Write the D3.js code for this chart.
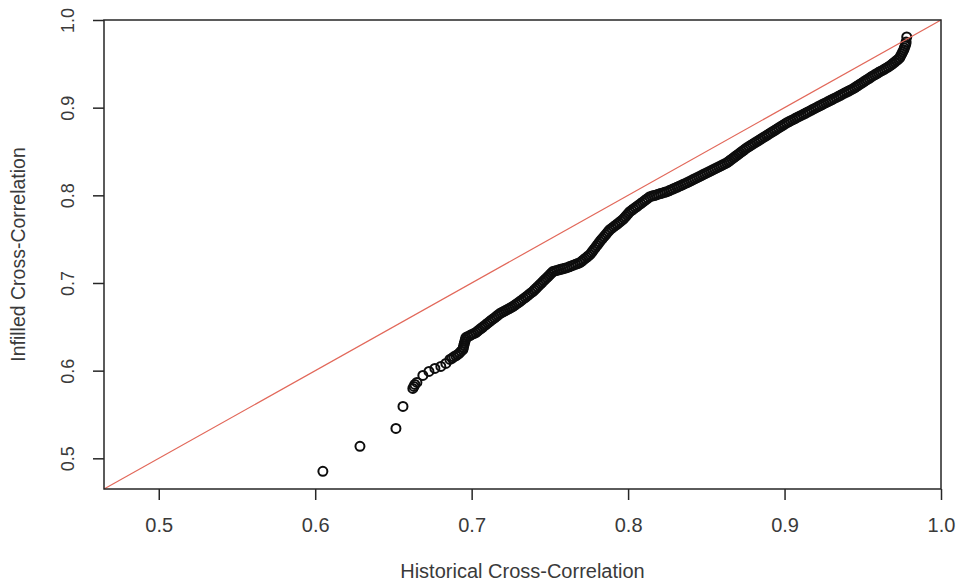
<!DOCTYPE html>
<html>
<head>
<meta charset="utf-8">
<script src="https://cdn.jsdelivr.net/npm/d3@7"></script>
<style>
  html, body { margin: 0; padding: 0; background: #fff; }
  svg { display: block; }
  text { font-family: "Liberation Sans", Arial, Helvetica, sans-serif; fill: #3a3a3a; }
</style>
</head>
<body>
<svg id="chart" width="956" height="585"></svg>
<script>
// Sorted historical vs. infilled cross-correlations (quantile pairs)
const historical = [
  0.6049, 0.6286, 0.6516, 0.6561, 0.6624, 0.6631, 0.6637, 0.6650, 0.6688, 0.6727, 0.6765, 0.6803, 0.6835, 0.6861,
  0.6874, 0.6886, 0.6899, 0.6912,
  0.6923, 0.6933, 0.6944,
  0.6947, 0.6950, 0.6953, 0.6957, 0.6960, 0.6963,
  0.6976, 0.6989, 0.7001, 0.7014, 0.7027,
  0.7038, 0.7048, 0.7059, 0.7070, 0.7080, 0.7091,
  0.7102, 0.7113, 0.7124, 0.7135, 0.7147, 0.7158, 0.7169, 0.7180,
  0.7192, 0.7204, 0.7216, 0.7228, 0.7240, 0.7251, 0.7263,
  0.7274, 0.7285, 0.7297, 0.7308,
  0.7320, 0.7332, 0.7344, 0.7356, 0.7367, 0.7379, 0.7391,
  0.7401, 0.7411, 0.7421, 0.7431, 0.7441, 0.7451, 0.7461, 0.7471, 0.7481,
  0.7491, 0.7500, 0.7510, 0.7519,
  0.7532, 0.7545, 0.7558, 0.7570, 0.7583, 0.7596, 0.7609,
  0.7623, 0.7637, 0.7650, 0.7664, 0.7678, 0.7692,
  0.7703, 0.7713, 0.7724, 0.7735, 0.7745, 0.7756,
  0.7765, 0.7774, 0.7783, 0.7792, 0.7801, 0.7810, 0.7819,
  0.7828, 0.7837, 0.7846, 0.7856, 0.7865, 0.7874, 0.7883,
  0.7895, 0.7907, 0.7919, 0.7931, 0.7942, 0.7954, 0.7966,
  0.7975, 0.7984, 0.7993, 0.8002, 0.8011,
  0.8023, 0.8034, 0.8046, 0.8058, 0.8069, 0.8081, 0.8093, 0.8104, 0.8116, 0.8127, 0.8139,
  0.8153, 0.8166, 0.8180, 0.8193, 0.8207, 0.8221, 0.8234, 0.8248,
  0.8261, 0.8273, 0.8286, 0.8299, 0.8312, 0.8324, 0.8337, 0.8350, 0.8362, 0.8375,
  0.8388, 0.8401, 0.8413, 0.8426, 0.8439, 0.8452, 0.8465, 0.8477, 0.8490, 0.8503,
  0.8516, 0.8529, 0.8541, 0.8554, 0.8567, 0.8580, 0.8593, 0.8605, 0.8618, 0.8631,
  0.8642, 0.8652, 0.8663, 0.8674, 0.8684, 0.8695, 0.8706, 0.8716, 0.8727, 0.8738, 0.8748, 0.8759,
  0.8772, 0.8784, 0.8797, 0.8810, 0.8823, 0.8836, 0.8848, 0.8861, 0.8874, 0.8887,
  0.8899, 0.8912, 0.8925, 0.8938, 0.8950, 0.8963, 0.8976, 0.8989, 0.9001, 0.9014,
  0.9027, 0.9040, 0.9054, 0.9067, 0.9080, 0.9093, 0.9106, 0.9120,
  0.9133, 0.9146, 0.9159, 0.9172, 0.9186, 0.9199, 0.9212, 0.9225,
  0.9238, 0.9251, 0.9265, 0.9278, 0.9291, 0.9304, 0.9317, 0.9331,
  0.9344, 0.9357, 0.9370, 0.9383, 0.9397, 0.9410, 0.9423, 0.9436,
  0.9448, 0.9459, 0.9471, 0.9482, 0.9494, 0.9506, 0.9517, 0.9529, 0.9541, 0.9552, 0.9564,
  0.9576, 0.9588, 0.9600, 0.9612, 0.9625, 0.9637, 0.9649, 0.9661, 0.9673,
  0.9684, 0.9694, 0.9705, 0.9715, 0.9726, 0.9736,
  0.9742, 0.9749, 0.9755, 0.9762,
  0.9766, 0.9771, 0.9775,
  0.9777, 0.9781
];

const infilled = [
  0.4852, 0.5137, 0.5341, 0.5592, 0.5797, 0.5820, 0.5843, 0.5866, 0.5945, 0.5991, 0.6025, 0.6048, 0.6082, 0.6128,
  0.6141, 0.6158, 0.6170, 0.6185,
  0.6202, 0.6222, 0.6241,
  0.6264, 0.6288, 0.6310, 0.6333, 0.6355, 0.6378,
  0.6390, 0.6400, 0.6413, 0.6423, 0.6435,
  0.6451, 0.6464, 0.6481, 0.6495, 0.6510, 0.6526,
  0.6541, 0.6557, 0.6573, 0.6589, 0.6603, 0.6620, 0.6635, 0.6651,
  0.6662, 0.6674, 0.6685, 0.6697, 0.6708, 0.6719, 0.6731,
  0.6745, 0.6760, 0.6774, 0.6788,
  0.6804, 0.6821, 0.6837, 0.6853, 0.6869, 0.6886, 0.6902,
  0.6920, 0.6937, 0.6955, 0.6973, 0.6990, 0.7008, 0.7026, 0.7043, 0.7061,
  0.7078, 0.7096, 0.7113, 0.7130,
  0.7137, 0.7143, 0.7150, 0.7156, 0.7162, 0.7169, 0.7175,
  0.7184, 0.7194, 0.7203, 0.7213, 0.7222, 0.7232,
  0.7247, 0.7262, 0.7277, 0.7293, 0.7308, 0.7323,
  0.7344, 0.7365, 0.7386, 0.7407, 0.7429, 0.7450, 0.7471,
  0.7491, 0.7510, 0.7530, 0.7549, 0.7569, 0.7588, 0.7608,
  0.7624, 0.7641, 0.7657, 0.7673, 0.7689, 0.7706, 0.7722,
  0.7740, 0.7758, 0.7777, 0.7795, 0.7813,
  0.7829, 0.7844, 0.7860, 0.7875, 0.7891, 0.7906, 0.7922, 0.7937, 0.7953, 0.7968, 0.7984,
  0.7991, 0.7998, 0.8005, 0.8013, 0.8020, 0.8027, 0.8034, 0.8041,
  0.8051, 0.8061, 0.8072, 0.8082, 0.8092, 0.8102, 0.8112, 0.8123, 0.8133, 0.8143,
  0.8154, 0.8166, 0.8177, 0.8189, 0.8200, 0.8211, 0.8223, 0.8234, 0.8246, 0.8257,
  0.8268, 0.8280, 0.8291, 0.8303, 0.8314, 0.8325, 0.8337, 0.8348, 0.8360, 0.8371,
  0.8385, 0.8399, 0.8414, 0.8428, 0.8442, 0.8456, 0.8471, 0.8485, 0.8499, 0.8513, 0.8528, 0.8542,
  0.8556, 0.8571, 0.8585, 0.8599, 0.8613, 0.8628, 0.8642, 0.8656, 0.8670, 0.8685,
  0.8699, 0.8713, 0.8727, 0.8742, 0.8756, 0.8770, 0.8784, 0.8799, 0.8813, 0.8827,
  0.8839, 0.8851, 0.8863, 0.8875, 0.8888, 0.8900, 0.8912, 0.8924,
  0.8936, 0.8948, 0.8960, 0.8972, 0.8985, 0.8997, 0.9009, 0.9021,
  0.9033, 0.9045, 0.9057, 0.9069, 0.9081, 0.9093, 0.9105, 0.9117,
  0.9129, 0.9141, 0.9154, 0.9166, 0.9178, 0.9190, 0.9202, 0.9214,
  0.9227, 0.9241, 0.9254, 0.9268, 0.9281, 0.9295, 0.9308, 0.9322, 0.9335, 0.9349, 0.9362,
  0.9375, 0.9387, 0.9400, 0.9413, 0.9425, 0.9438, 0.9451, 0.9463, 0.9476,
  0.9491, 0.9506, 0.9521, 0.9537, 0.9552, 0.9567,
  0.9590, 0.9613, 0.9635, 0.9658,
  0.9681, 0.9704, 0.9727,
  0.9750, 0.9806
];

const axisRange = [0.465, 1.0];
const xTicks = [0.5, 0.6, 0.7, 0.8, 0.9, 1.0];
const yTicks = [0.5, 0.6, 0.7, 0.8, 0.9, 1.0];
const xTitle = "Historical Cross-Correlation";
const yTitle = "Infilled Cross-Correlation";

const svg = d3.select("#chart");
const margin = { left: 104, right: 15, top: 20, bottom: 96 };
const W = 956, H = 585;
const plotW = W - margin.left - margin.right;
const plotH = H - margin.top - margin.bottom;

const x = d3.scaleLinear().domain(axisRange).range([margin.left, margin.left + plotW]);
const y = d3.scaleLinear().domain(axisRange).range([margin.top + plotH, margin.top]);

const ink = "#262626";
const fmt = d3.format(".1f");

// points: open circles
const pts = historical.map((h, i) => ({ h, v: infilled[i] }));
svg.append("g")
  .selectAll("circle")
  .data(pts)
  .join("circle")
  .attr("cx", d => x(d.h))
  .attr("cy", d => y(d.v))
  .attr("r", 4.5)
  .attr("fill", "none")
  .attr("stroke", "#0d0d0d")
  .attr("stroke-width", 2);

// identity reference line y = x
svg.append("line")
  .attr("x1", x(axisRange[0])).attr("y1", y(axisRange[0]))
  .attr("x2", x(axisRange[1])).attr("y2", y(axisRange[1]))
  .attr("stroke", "#e2685a")
  .attr("stroke-width", 1.2);

// frame
svg.append("rect")
  .attr("x", margin.left).attr("y", margin.top)
  .attr("width", plotW).attr("height", plotH)
  .attr("fill", "none")
  .attr("stroke", ink)
  .attr("stroke-width", 1.5);

// x axis
const gx = svg.append("g")
  .attr("transform", `translate(0,${margin.top + plotH})`)
  .call(d3.axisBottom(x).tickValues(xTicks).tickFormat(fmt).tickSize(11).tickSizeOuter(0));
gx.select(".domain").remove();
gx.selectAll(".tick line").attr("stroke", ink).attr("stroke-width", 1.5);
gx.selectAll(".tick text")
  .attr("y", 43).attr("dy", 0)
  .attr("font-size", 20)
  .attr("fill", "#3a3a3a");

// y axis with labels running vertically
const gy = svg.append("g")
  .attr("transform", `translate(${margin.left},0)`)
  .call(d3.axisLeft(y).tickValues(yTicks).tickFormat(fmt).tickSize(11).tickSizeOuter(0));
gy.select(".domain").remove();
gy.selectAll(".tick line").attr("stroke", ink).attr("stroke-width", 1.5);
gy.selectAll(".tick text")
  .attr("x", 0).attr("y", -30).attr("dy", 0)
  .attr("text-anchor", "middle")
  .attr("transform", "rotate(-90)")
  .attr("font-size", 18)
  .attr("fill", "#3a3a3a");

// axis titles
svg.append("text")
  .attr("x", margin.left + plotW / 2)
  .attr("y", 578)
  .attr("text-anchor", "middle")
  .attr("font-size", 20)
  .text(xTitle);

svg.append("text")
  .attr("transform", `translate(25,${margin.top + plotH / 2}) rotate(-90)`)
  .attr("text-anchor", "middle")
  .attr("font-size", 19.5)
  .text(yTitle);
</script>
</body>
</html>
